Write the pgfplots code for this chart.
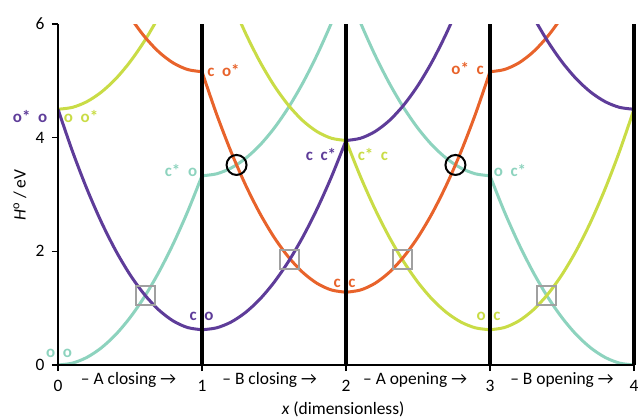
\documentclass[border=0pt]{standalone}
\usepackage{fontspec}
\setmainfont{Carlito}
\usepackage{pgfplots}
\pgfplotsset{compat=1.18}
\definecolor{cP}{HTML}{5E3C99}
\definecolor{cO}{HTML}{E8632B}
\definecolor{cY}{HTML}{C9DC46}
\definecolor{cT}{HTML}{8DD3BE}
\definecolor{cG}{HTML}{A0A0A0}
\begin{document}
\begin{tikzpicture}
\begin{axis}[
  at={(0,0)}, anchor=south west,
  scale only axis, width=576bp, height=341bp,
  xmin=0, xmax=4, ymin=0, ymax=6,
  axis x line=bottom, axis y line=left,
  axis line style={-, black, line width=2bp},
  tick align=outside, major tick length=6bp,
  tick style={black, line width=1.5bp},
  xtick={0,1,2,3,4}, ytick={0,2,4,6},
  /pgf/number format/assume math mode=true,
  tick label style={font=\fontsize{17.5}{17.5}\selectfont},
  xticklabel style={yshift=-6bp},
  yticklabel style={xshift=-4bp},
  extra x ticks={1,2,3,4}, extra x tick labels={},
  extra x tick style={xmajorgrids=true, major grid style={black, line width=3.8bp}, tickwidth=0pt},
  axis on top,
  clip mode=individual,
]
% teal
\addplot[cT, line width=3bp, smooth] coordinates {(0,0)(0.1,0.033)(0.2,0.133)(0.3,0.3)(0.4,0.533)(0.5,0.833)(0.6,1.199)(0.7,1.632)(0.8,2.131)(0.9,2.697)(1,3.33)};
\addplot[cT, line width=3bp, smooth] coordinates {(1,3.33)(1.1,3.363)(1.2,3.463)(1.3,3.63)(1.4,3.863)(1.5,4.163)(1.6,4.529)(1.7,4.962)(1.8,5.461)(1.9,6.027)(2,6.66)};
\addplot[cT, line width=3bp, smooth] coordinates {(2,6.66)(2.1,6.027)(2.2,5.461)(2.3,4.962)(2.4,4.529)(2.5,4.163)(2.6,3.863)(2.7,3.63)(2.8,3.463)(2.9,3.363)(3,3.33)};
\addplot[cT, line width=3bp, smooth] coordinates {(3,3.33)(3.1,2.697)(3.2,2.131)(3.3,1.632)(3.4,1.199)(3.5,0.833)(3.6,0.533)(3.7,0.3)(3.8,0.133)(3.9,0.033)(4,0)};
% yellow-green
\addplot[cY, line width=3bp, smooth] coordinates {(0,4.5)(0.1,4.533)(0.2,4.633)(0.3,4.8)(0.4,5.033)(0.5,5.333)(0.6,5.699)(0.7,6.132)(0.8,6.631)(0.9,7.197)(1,7.83)};
\addplot[cY, line width=3bp, smooth] coordinates {(1,7.83)(1.1,7.093)(1.2,6.433)(1.3,5.851)(1.4,5.347)(1.5,4.92)(1.6,4.571)(1.7,4.299)(1.8,4.105)(1.9,3.989)(2,3.95)};
\addplot[cY, line width=3bp, smooth] coordinates {(2,3.95)(2.1,3.317)(2.2,2.751)(2.3,2.252)(2.4,1.819)(2.5,1.453)(2.6,1.153)(2.7,0.92)(2.8,0.753)(2.9,0.653)(3,0.62)};
\addplot[cY, line width=3bp, smooth] coordinates {(3,0.62)(3.1,0.659)(3.2,0.775)(3.3,0.969)(3.4,1.241)(3.5,1.59)(3.6,2.017)(3.7,2.521)(3.8,3.103)(3.9,3.763)(4,4.5)};
% orange
\addplot[cO, line width=3bp, smooth] coordinates {(0,9.04)(0.1,8.303)(0.2,7.643)(0.3,7.061)(0.4,6.557)(0.5,6.13)(0.6,5.781)(0.7,5.509)(0.8,5.315)(0.9,5.199)(1,5.16)};
\addplot[cO, line width=3bp, smooth] coordinates {(1,5.16)(1.1,4.423)(1.2,3.763)(1.3,3.181)(1.4,2.677)(1.5,2.25)(1.6,1.901)(1.7,1.629)(1.8,1.435)(1.9,1.319)(2,1.28)};
\addplot[cO, line width=3bp, smooth] coordinates {(2,1.28)(2.1,1.319)(2.2,1.435)(2.3,1.629)(2.4,1.901)(2.5,2.25)(2.6,2.677)(2.7,3.181)(2.8,3.763)(2.9,4.423)(3,5.16)};
\addplot[cO, line width=3bp, smooth] coordinates {(3,5.16)(3.1,5.199)(3.2,5.315)(3.3,5.509)(3.4,5.781)(3.5,6.13)(3.6,6.557)(3.7,7.061)(3.8,7.643)(3.9,8.303)(4,9.04)};
% purple
\addplot[cP, line width=3bp, smooth] coordinates {(0,4.5)(0.1,3.763)(0.2,3.103)(0.3,2.521)(0.4,2.017)(0.5,1.59)(0.6,1.241)(0.7,0.969)(0.8,0.775)(0.9,0.659)(1,0.62)};
\addplot[cP, line width=3bp, smooth] coordinates {(1,0.62)(1.1,0.653)(1.2,0.753)(1.3,0.92)(1.4,1.153)(1.5,1.453)(1.6,1.819)(1.7,2.252)(1.8,2.751)(1.9,3.317)(2,3.95)};
\addplot[cP, line width=3bp, smooth] coordinates {(2,3.95)(2.1,3.989)(2.2,4.105)(2.3,4.299)(2.4,4.571)(2.5,4.92)(2.6,5.347)(2.7,5.851)(2.8,6.433)(2.9,7.093)(3,7.83)};
\addplot[cP, line width=3bp, smooth] coordinates {(3,7.83)(3.1,7.197)(3.2,6.631)(3.3,6.132)(3.4,5.699)(3.5,5.333)(3.6,5.033)(3.7,4.8)(3.8,4.633)(3.9,4.533)(4,4.5)};
% crossing marks
\addplot[only marks, mark=o, mark size=10bp, mark options={draw=black, line width=2bp}] coordinates {(1.24,3.52)(2.76,3.52)};
\addplot[only marks, mark=square, mark size=9.5bp, mark options={draw=cG, line width=2bp}] coordinates {(0.61,1.22)(1.61,1.86)(2.39,1.86)(3.39,1.22)};
% state labels
\begin{scope}[every node/.style={font=\bfseries\fontsize{17}{17}\selectfont, inner sep=0pt}]
\node[text=cP] at (axis cs:-0.194,4.37) {o*\ \ o};
\node[text=cY] at (axis cs:0.16,4.37) {o\ \ o*};
\node[text=cO] at (axis cs:1.149,5.19) {c\ \ o*};
\node[text=cT] at (axis cs:0.854,3.42) {c*\ \ o};
\node[text=cP] at (axis cs:1.826,3.70) {c\ \ c*};
\node[text=cY] at (axis cs:2.187,3.70) {c*\ \ c};
\node[text=cO] at (axis cs:2.844,5.21) {o*\ \ c};
\node[text=cT] at (axis cs:3.139,3.42) {o\ \ c*};
\node[text=cT] at (axis cs:0.007,0.21) {o\ \ o};
\node[text=cP] at (axis cs:0.997,0.85) {c\ \ o};
\node[text=cO] at (axis cs:1.99,1.44) {c\ \ c};
\node[text=cY] at (axis cs:2.99,0.85) {o\ \ c};
\end{scope}
% segment labels
\begin{scope}[every node/.style={font=\fontsize{17.5}{17.5}\selectfont, inner sep=0pt, anchor=base}]
\node at ([yshift=-19bp]axis cs:0.49,0) {– A closing →};
\node at ([yshift=-19bp]axis cs:1.47,0) {– B closing →};
\node at ([yshift=-19bp]axis cs:2.48,0) {– A opening →};
\node at ([yshift=-19bp]axis cs:3.5,0) {– B opening →};
\node at ([yshift=-49bp]axis cs:1.98,0) {\textit{x} (dimensionless)};
\node[rotate=90, anchor=center] at (axis cs:-0.264,2.99) {\textit{H}\textsuperscript{o} / eV};
\end{scope}
\end{axis}
\pgfresetboundingbox
\path[use as bounding box] (-58bp,-55bp) rectangle (580bp,365bp);
\end{tikzpicture}
\end{document}
